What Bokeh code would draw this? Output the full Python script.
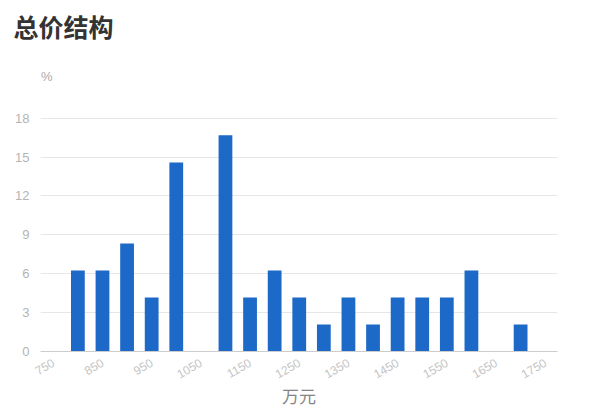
import math
from bokeh.plotting import figure
from bokeh.models import Title, Label, Range1d, FixedTicker
from bokeh.embed import file_html
from bokeh.resources import INLINE

# data
price = [800, 850, 900, 950, 1000, 1050, 1100, 1150, 1200, 1250,
         1300, 1350, 1400, 1450, 1500, 1550, 1600, 1650, 1700]
share = [6.25, 6.25, 8.33, 4.17, 14.58, 0, 16.67, 4.17, 6.25, 4.17,
         2.08, 4.17, 2.08, 4.17, 4.17, 4.17, 6.25, 0, 2.08]
x_ticks = [750, 850, 950, 1050, 1150, 1250, 1350, 1450, 1550, 1650, 1750]
y_ticks = [0, 3, 6, 9, 12, 15, 18]
title_text = "总价结构"
y_unit = "%"
x_title = "万元"

p = figure(frame_width=517, frame_height=303, output_backend="svg",
           toolbar_location=None,
           x_range=Range1d(724, 1775), y_range=Range1d(0, 23.37),
           min_border_left=40, min_border_right=35, min_border_top=0,
           min_border_bottom=52)
p.title.visible = False
p.outline_line_color = None
p.background_fill_color = "white"
p.border_fill_color = "white"

p.vbar(x=price, top=share, width=28, color="#1d69c7", line_color=None)

# axes
p.xaxis.ticker = FixedTicker(ticks=x_ticks)
p.yaxis.ticker = FixedTicker(ticks=y_ticks)
p.xaxis.major_label_orientation = math.pi / 6
for ax in (p.xaxis, p.yaxis):
    ax.major_tick_line_color = None
    ax.minor_tick_line_color = None
    ax.major_tick_out = 0
    ax.major_tick_in = 0
    ax.minor_tick_out = 0
    ax.minor_tick_in = 0
    ax.major_label_text_font = "Liberation Sans"
p.xaxis.major_label_text_font_size = "12px"
p.yaxis.major_label_text_font_size = "13px"
p.xaxis.major_label_text_color = "#c4c4c4"
p.yaxis.major_label_text_color = "#b4b4b4"
p.yaxis.axis_line_color = None
p.xaxis.axis_line_color = "#cccccc"
p.yaxis.major_label_standoff = 11
p.xaxis.major_label_standoff = 10
p.xaxis.axis_label = x_title
p.xaxis.axis_label_text_font = "Noto Sans CJK SC"
p.xaxis.axis_label_text_font_style = "normal"
p.xaxis.axis_label_text_font_size = "17px"
p.xaxis.axis_label_text_color = "#858585"
p.xaxis.axis_label_standoff = -3

p.xgrid.grid_line_color = None
p.ygrid.grid_line_color = "#e6e6e6"

p.add_layout(Label(x=725, y=21.18, text=y_unit, text_font="Liberation Sans",
                   text_font_size="13px", text_color="#aaaaaa",
                   text_baseline="middle"))
p.add_layout(Title(text=title_text, align="left", offset=-27, standoff=10,
                   text_font="Noto Sans CJK SC", text_font_style="bold",
                   text_font_size="25px", text_color="#333333"), "above")

open("out.html", "w").write(file_html(p, INLINE))
